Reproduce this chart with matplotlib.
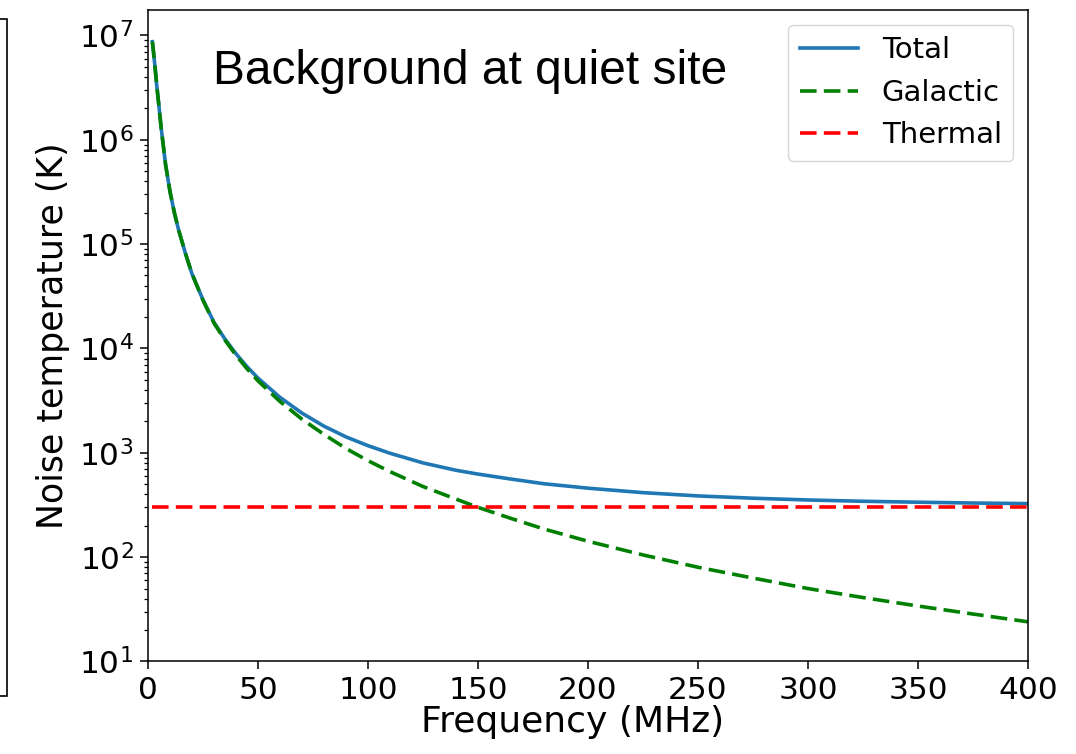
## noise temperature at a quiet site: galactic + thermal background
import numpy as np
import matplotlib
matplotlib.use("Agg")
import matplotlib.pyplot as plt
from matplotlib.patches import Rectangle

# values
freq = [2, 2.5, 3, 3.5, 4, 5, 6, 7, 8, 10, 12, 14, 17, 20, 25, 30, 35, 40, 45,
        50, 60, 70, 80, 90, 100, 110, 125, 140, 150, 165, 180, 200, 225, 250,
        275, 300, 325, 350, 375, 400]  # MHz
galactic = [8.7e6, 7.0e6, 5.5e6, 4.3e6, 3.3e6, 2.1e6, 1.3e6, 8.7e5, 5.8e5,
            3.2e5, 2.0e5, 1.35e5, 8.2e4, 5.2e4, 2.9e4, 1.75e4, 1.2e4, 8.6e3,
            6.4e3, 4.9e3, 3.1e3, 2.1e3, 1.5e3, 1.1e3, 840, 660, 475, 360, 300,
            235, 186, 142, 105, 80, 63, 50, 41, 34, 28.5, 24]  # K
total = [8.7e6, 7.0e6, 5.5e6, 4.3e6, 3.3e6, 2.1e6, 1.3e6, 8.7e5, 5.8e5,
         3.2e5, 2.0e5, 1.35e5, 8.2e4, 5.2e4, 2.93e4, 1.78e4, 1.23e4, 8.9e3,
         6.7e3, 5.2e3, 3.4e3, 2.4e3, 1.8e3, 1.42e3, 1.17e3, 990, 800, 680,
         625, 560, 505, 458, 415, 386, 367, 353, 343, 336, 330, 326]  # K
thermal = [300] * len(freq)  # K, flat

xticks = [0, 50, 100, 150, 200, 250, 300, 350, 400]

fig = plt.figure(figsize=(10.76, 7.54), dpi=100)
ax = fig.add_axes([0.1375, 0.1227, 0.8179, 0.864])

lw = 2.6
ax.plot(freq, total, color='tab:blue', lw=lw, label='Total')
ax.plot(freq, galactic, color='g', lw=lw, dashes=(4.6, 2.0), label='Galactic')
ax.plot(freq, thermal, color='r', lw=lw, dashes=(4.6, 2.0), label='Thermal')

ax.set_yscale('log')
ax.set_xlim(0, 400)
ax.set_ylim(10, 1.75e7)
ax.set_xticks(xticks)

ax.tick_params(axis='both', which='major', labelsize=22.5, length=5.5, width=1.1, pad=5)
ax.tick_params(axis='both', which='minor', length=3, width=0.9)
for s in ax.spines.values():
    s.set_linewidth(1.1)

ax.set_xlabel('Frequency (MHz)', fontsize=26, x=0.483, labelpad=0)
ax.set_ylabel('Noise temperature (K)', fontsize=25, labelpad=6)

ax.text(0.074, 0.886, 'Background at quiet site', transform=ax.transAxes,
        fontsize=34.5, family='Liberation Sans', va='baseline', ha='left')

ax.legend(loc='upper right', fontsize=21)

# edge of the neighbouring panel, cut off at the left
fig.patches.append(Rectangle((-0.01, 1 - 696 / 754), 0.0165, (696 - 19) / 754,
                             transform=fig.transFigure, fill=False,
                             edgecolor='black', lw=1.2))

fig.savefig('out.png', dpi=100)
